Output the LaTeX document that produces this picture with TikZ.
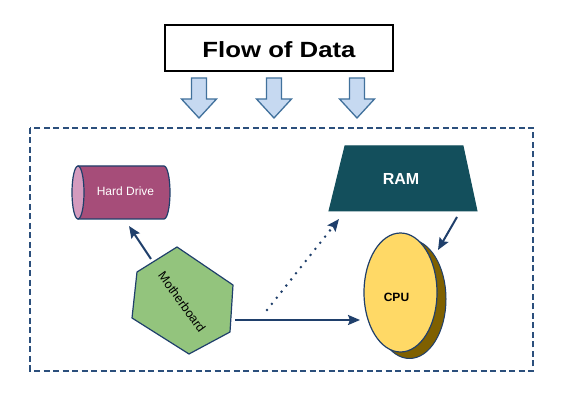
\documentclass[tikz,border=0pt]{standalone}
\usepackage{fontspec}
\setmainfont{Liberation Sans}
\usetikzlibrary{arrows.meta}
\definecolor{navy}{HTML}{1F3F6B}
\definecolor{dashnavy}{HTML}{2B4F7C}
\definecolor{arrfill}{HTML}{C6D9F1}
\definecolor{arrline}{HTML}{41719C}
\definecolor{hdbody}{HTML}{A64D79}
\definecolor{hdcap}{HTML}{D49BBE}
\definecolor{mbgreen}{HTML}{93C47D}
\definecolor{ramteal}{HTML}{134F5C}
\definecolor{cpufront}{HTML}{FFD966}
\definecolor{cpuback}{HTML}{7F6000}
\begin{document}
\begin{tikzpicture}[x=1pt,y=-1pt,
  conn/.style={draw=navy, line width=2pt, -{Stealth[length=12pt,width=10pt,inset=2pt]}},
  shapeline/.style={draw=navy, line width=1.2pt, line join=round},
  downarrow/.style={draw=arrline, fill=arrfill, line width=1.3pt, line join=miter},
  lbl/.style={inner sep=0pt, anchor=base}]
\useasboundingbox (0,0) rectangle (568,411);
\fill[white] (0,0) rectangle (568,411);

% title
\node[draw=black, line width=2pt, minimum width=228pt, minimum height=46pt, inner sep=0pt] (titlebox) at (279,48) {};
\node[lbl, font=\fontsize{22}{26}\selectfont\bfseries] (title) at (279,57.3) {\scalebox{1.17}[1]{Flow of Data}};

% down arrows
\foreach \cx [count=\i] in {199,274,357}{
  \draw[downarrow] (\cx-7.5,78) -- (\cx+7.5,78) -- (\cx+7.5,99) -- (\cx+17.5,99)
     -- (\cx,118) -- (\cx-17.5,99) -- (\cx-7.5,99) -- cycle;
}

% dashed frame
\draw[draw=dashnavy, line width=1.3pt, dash pattern=on 6pt off 3.5pt] (30,128) rectangle (533,371);

% hard drive
\draw[shapeline, fill=hdbody] (78,166) -- (164,166)
   arc[start angle=-90, end angle=90, x radius=6, y radius=26.5] -- (78,219) -- cycle;
\draw[shapeline, fill=hdcap] (78,192.5) ellipse[x radius=6, y radius=26.5];
\node[lbl, text=white, font=\fontsize{12}{14}\selectfont] (hd) at (125.5,196) {Hard Drive};

% motherboard
\draw[shapeline, fill=mbgreen] (177,247) -- (233,285) -- (230,332) -- (189,354) -- (132,318) -- (137,272) -- cycle;
\node[inner sep=0pt, rotate=-54, font=\fontsize{12.5}{14}\selectfont] (mb) at (182,302) {Motherboard};

% RAM
\draw[draw=ramteal, line width=1pt, fill=ramteal] (345,146) -- (463,146) -- (477,211) -- (329,211) -- cycle;
\node[lbl, text=white, font=\fontsize{16}{18}\selectfont\bfseries] (ram) at (401,185) {RAM};

% CPU
\draw[draw=navy, line width=1pt, fill=cpuback] (409.5,299) ellipse[x radius=36.5, y radius=59.5];
\draw[shapeline, fill=cpufront] (400.5,292.5) ellipse[x radius=36.5, y radius=59.5];
\node[lbl, font=\fontsize{12}{14}\selectfont\bfseries] (cpu) at (396.5,302) {CPU};

% connector end points
\coordinate (mbA) at (151,259);
\coordinate (hdIn) at (129,226);
\coordinate (mbB) at (235,320);
\coordinate (cpuIn) at (360,320);
\coordinate (mbC) at (267,310);
\coordinate (ramIn) at (339,219);
\coordinate (ramOut) at (457,217);
\coordinate (cpuTop) at (438,250);

\draw[conn] (mbA) -- (hdIn);
\draw[conn] (mbB) -- (cpuIn);
\draw[conn, dash pattern=on 0pt off 7.8pt, line cap=round, line width=2.8pt] (mbC) -- (ramIn);
\draw[conn] (ramOut) -- (cpuTop);
\end{tikzpicture}
\end{document}
